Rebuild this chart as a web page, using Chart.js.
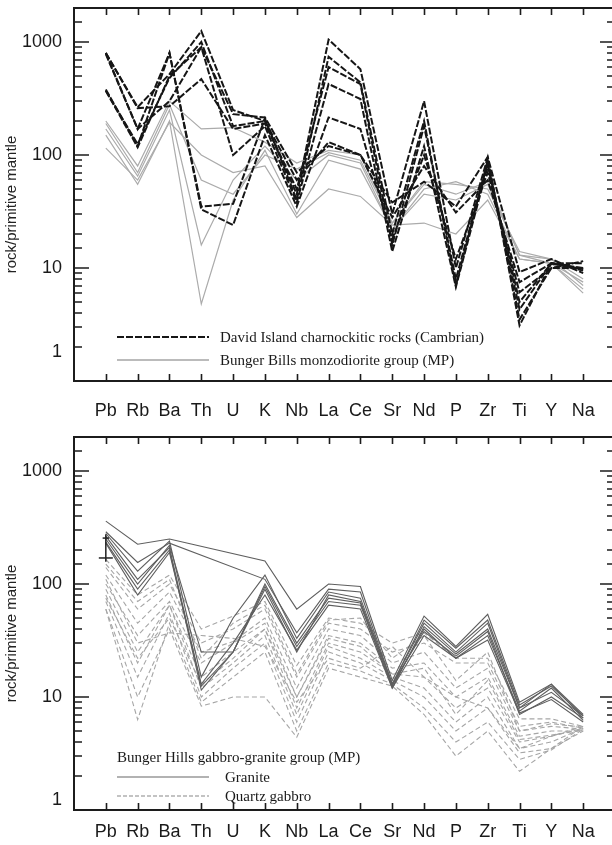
<!DOCTYPE html>
<html>
<head>
<meta charset="utf-8">
<script src="https://cdn.jsdelivr.net/npm/chart.js@4.4.0/dist/chart.umd.min.js"></script>
<style>
  html, body { margin: 0; padding: 0; background: #fff; overflow: hidden; width: 612px; height: 845px; }
  canvas { position: absolute; left: 0; }
  #top { top: 0; }
  #bottom { top: 429px; }
</style>
</head>
<body>
<canvas id="top" width="620" height="422"></canvas>
<canvas id="bottom" width="620" height="416"></canvas>
<script>
const elements = ['Pb', 'Rb', 'Ba', 'Th', 'U', 'K', 'Nb', 'La', 'Ce', 'Sr', 'Nd', 'P', 'Zr', 'Ti', 'Y', 'Na'];
const yTickLabels = [10, 100, 1000];

// top panel: David Island charnockitic rocks (Cambrian)
const davidIsland = [
    [800, 265, 520, 1250, 250, 200, 45, 1050, 575, 30, 300, 10, 95, 3.1, 11, 11],
    [780, 170, 800, 35, 37, 210, 40, 740, 440, 20, 200, 7, 90, 3.5, 10, 10],
    [800, 260, 270, 470, 170, 190, 50, 600, 425, 16, 180, 8, 85, 4.3, 11, 9.5],
    [370, 117, 500, 900, 100, 180, 38, 425, 313, 14, 120, 6.8, 80, 5, 11, 10],
    [380, 120, 800, 33, 24, 150, 35, 215, 170, 18, 100, 12, 70, 6.1, 10, 11.5],
    [370, 125, 480, 1000, 180, 200, 60, 130, 100, 28, 80, 31, 60, 7.5, 11, 9.8],
    [800, 170, 300, 900, 230, 215, 70, 120, 100, 38, 58, 35, 96, 9.2, 12, 9],
];

// top panel: Bunger Bills monzodiorite group (MP)
const bungerMonzodiorite = [
    [200, 80, 300, 170, 175, 130, 85, 110, 100, 25, 58, 55, 50, 14, 12, 7],
    [170, 65, 250, 16, 60, 120, 60, 100, 85, 22, 50, 58, 45, 12, 11, 6],
    [150, 55, 200, 4.8, 40, 110, 30, 90, 75, 22, 45, 40, 55, 13, 12, 8],
    [115, 60, 195, 100, 70, 80, 28, 50, 43, 24, 25, 20, 40, 12, 11, 6.5],
    [190, 70, 280, 60, 45, 100, 75, 105, 90, 25, 55, 45, 58, 13, 11, 7.5],
];

// bottom panel: Bunger Hills gabbro-granite group (MP)
const granite = [
    [360, 225, 250, null, null, 160, 60, 100, 95, 14, 52, 28, 54, 9, 13, 7],
    [290, 155, 230, null, null, 110, 37, 90, 85, 13, 48, 27, 48, 8.5, 12.5, 6.8],
    [265, 110, 210, 12.5, 25, 100, 30, 75, 68, 12, 42, 24, 40, 8, 13, 6.5],
    [235, 90, 200, 11.5, 25, 95, 28, 70, 65, 12.5, 40, 22, 35, 7.5, 12, 6.2],
    [250, 100, 220, 25, 25, 90, 25, 80, 70, 13, 38, 23, 38, 7, 10, 6.5],
    [280, 130, 240, 15, 50, 120, 33, 85, 75, 13, 45, 25, 45, 8, 11, 6.8],
    [230, 80, 190, 13, 30, 80, 26, 65, 60, 12, 35, 22, 32, 7.2, 9.5, 6],
];

const quartzGabbro = [
    [165, 80, 120, 40, 52, 70, 19, 50, 45, 30, 37, 22, 22, 6.4, 6.4, 5.5],
    [140, 60, 100, 30, 40, 60, 15, 45, 40, 25, 30, 20, 20, 5.5, 6, 5.3],
    [120, 45, 85, 25, 31, 50, 12, 40, 35, 20, 25, 12, 18, 5, 5.5, 5.2],
    [100, 35, 70, 20, 30, 45, 10, 35, 30, 18, 20, 10, 15, 4.5, 5, 5],
    [90, 25, 65, 15, 25, 40, 8, 30, 25, 16, 15, 8, 12, 4, 4.5, 5.5],
    [80, 20, 65, 12, 20, 35, 7, 28, 22, 15, 12, 6, 10, 3.5, 4, 5.3],
    [70, 15, 55, 10, 18, 30, 6, 25, 20, 14, 10, 5, 8, 3.2, 3.5, 5],
    [60, 6.3, 45, 9, 15, 25, 5, 20, 17, 13, 8, 4, 6, 2.8, 3.4, 5.2],
    [60, 10, 40, 8.3, 10, 10, 4.4, 18, 15, 12.5, 7, 3, 5, 2.2, 3.5, 5.5],
    [110, 30, 37, 35, 33, 28, 9, 22, 18, 28, 15, 10, 8, 3.5, 4.5, 5.3],
    [150, 70, 110, 22, 45, 65, 16, 48, 50, 22, 35, 14, 25, 5, 5.8, 5.4],
    [75, 22, 50, 13, 22, 40, 10, 33, 28, 16, 18, 7, 14, 4.2, 4.6, 5.1],
];

// Pb error bar in the lower panel (element index, value)
const pbErrorBar = [[0, 275], [0, 157]];
const pbErrorMid = [[-0.22, 170], [0.22, 170]];
const pbErrorTop = [[-0.1, 255], [0.1, 255]];

function toPoints(row) {
    return row.map((v, i) => ({x: i, y: v}));
}

function lineSet(row, color, width, dash) {
    return {
        data: toPoints(row),
        borderColor: color,
        borderWidth: width,
        borderDash: dash,
        pointRadius: 0,
        fill: false,
        tension: 0,
        spanGaps: true,
    };
}

function pairSet(pairs) {
    return {
        data: pairs.map(p => ({x: p[0], y: p[1]})),
        borderColor: '#222',
        borderWidth: 1.5,
        pointRadius: 0,
        fill: false,
    };
}

// frame, inward ticks, axis title and legend text
function framePlugin(legendRows, oneLabelShift) {
    return {
        id: 'frame',
        afterDatasetsDraw(chart) {
            const ctx = chart.ctx;
            const a = chart.chartArea;
            const xs = chart.scales.x;
            const ys = chart.scales.y;
            ctx.save();
            ctx.strokeStyle = '#1c1c1c';
            ctx.lineWidth = 2;
            ctx.strokeRect(a.left, a.top, a.right - a.left, a.bottom - a.top);
            ctx.lineWidth = 1.6;
            ctx.beginPath();
            for (let i = 0; i < elements.length; i++) {
                const px = Math.round(xs.getPixelForValue(i)) + 0.5;
                ctx.moveTo(px, a.top);
                ctx.lineTo(px, a.top + 7);
                ctx.moveTo(px, a.bottom);
                ctx.lineTo(px, a.bottom - 7);
            }
            ys.ticks.forEach(t => {
                const lg = Math.log10(t.value);
                const major = Math.abs(lg - Math.round(lg)) < 1e-9;
                const len = major ? 15 : 8;
                const py = Math.round(ys.getPixelForValue(t.value));
                if (py < a.top + 2 || py > a.bottom - 2) return;
                ctx.moveTo(a.left, py);
                ctx.lineTo(a.left + len, py);
                ctx.moveTo(a.right, py);
                ctx.lineTo(a.right - len, py);
            });
            ctx.stroke();

            // the "1" label sits a bit above the bottom axis in the original
            ctx.fillStyle = '#1a1a1a';
            ctx.font = '18px "Liberation Sans", Arial, sans-serif';
            ctx.textAlign = 'right';
            ctx.textBaseline = 'middle';
            ctx.fillText('1', a.left - 12, ys.getPixelForValue(1) + oneLabelShift);

            // y axis title
            ctx.fillStyle = '#222';
            ctx.font = '15px "Liberation Sans", Arial, sans-serif';
            ctx.textAlign = 'center';
            ctx.translate(12, (a.top + a.bottom) / 2 + 10);
            ctx.rotate(-Math.PI / 2);
            ctx.fillText('rock/primitive mantle', 0, 0);
            ctx.setTransform(1, 0, 0, 1, 0, 0);

            // legend
            ctx.font = '15px "Liberation Serif", "Times New Roman", serif';
            ctx.textAlign = 'left';
            legendRows.forEach(r => {
                if (r.line) {
                    ctx.strokeStyle = r.line.color;
                    ctx.lineWidth = r.line.width;
                    ctx.setLineDash(r.line.dash || []);
                    ctx.beginPath();
                    ctx.moveTo(117, r.y);
                    ctx.lineTo(209, r.y);
                    ctx.stroke();
                    ctx.setLineDash([]);
                }
                ctx.fillStyle = '#1a1a1a';
                ctx.fillText(r.text, r.x, r.y + 1);
            });
            ctx.restore();
        }
    };
}

function makeOptions(padTop, xHeight, labelPad) {
    return {
        responsive: false,
        animation: false,
        devicePixelRatio: 1,
        layout: {padding: {top: padTop, right: 5, left: 0, bottom: 0}},
        plugins: {legend: {display: false}, tooltip: {enabled: false}},
        scales: {
            x: {
                type: 'linear',
                min: -1,
                max: 16,
                grid: {display: false, drawTicks: false},
                border: {display: false},
                afterFit: s => {
                    s.height = xHeight;
                    s.paddingLeft = 0;
                    s.paddingRight = 0;
                },
                afterBuildTicks: s => {
                    s.ticks = elements.map((e, i) => ({value: i}));
                },
                ticks: {
                    autoSkip: false,
                    maxRotation: 0,
                    padding: labelPad,
                    color: '#1a1a1a',
                    font: {family: '"Liberation Sans", Arial, sans-serif', size: 18},
                    callback: v => elements[v] || '',
                },
            },
            y: {
                type: 'logarithmic',
                min: 1,
                max: 2000,
                grid: {display: false, drawTicks: false},
                border: {display: false},
                afterFit: s => {
                    s.width = 74;
                    s.paddingTop = 0;
                    s.paddingBottom = 0;
                },
                ticks: {
                    autoSkip: false,
                    padding: 12,
                    color: '#1a1a1a',
                    font: {family: '"Liberation Sans", Arial, sans-serif', size: 18},
                    callback: v => yTickLabels.includes(v) ? String(v) : '',
                },
            },
        },
    };
}

let topDatasets = [];
davidIsland.forEach(r => topDatasets.push(lineSet(r, '#161616', 2, [7, 2])));
bungerMonzodiorite.forEach(r => topDatasets.push(lineSet(r, '#ababab', 1.2, [])));

new Chart(document.getElementById('top'), {
    type: 'line',
    data: {datasets: topDatasets},
    options: makeOptions(8, 41, 19),
    plugins: [framePlugin([
        {x: 220, y: 337, text: 'David Island charnockitic rocks (Cambrian)', line: {color: '#161616', width: 1.8, dash: [7, 2]}},
        {x: 220, y: 360, text: 'Bunger Bills monzodiorite group (MP)', line: {color: '#a5a5a5', width: 1.3}},
    ], -29)],
});

let bottomDatasets = [];
bottomDatasets.push(pairSet(pbErrorBar));
bottomDatasets.push(pairSet(pbErrorMid));
bottomDatasets.push(pairSet(pbErrorTop));
granite.forEach(r => bottomDatasets.push(lineSet(r, '#5e5e5e', 1.1, [])));
quartzGabbro.forEach(r => bottomDatasets.push(lineSet(r, '#a6a6a6', 1.1, [5, 3])));

new Chart(document.getElementById('bottom'), {
    type: 'line',
    data: {datasets: bottomDatasets},
    options: makeOptions(8, 35, 11),
    plugins: [framePlugin([
        {x: 117, y: 328, text: 'Bunger Hills gabbro-granite group (MP)'},
        {x: 225, y: 348, text: 'Granite', line: {color: '#666', width: 1.2}},
        {x: 225, y: 367, text: 'Quartz gabbro', line: {color: '#888', width: 1.1, dash: [4, 2]}},
    ], -10)],
});
</script>
</body>
</html>
